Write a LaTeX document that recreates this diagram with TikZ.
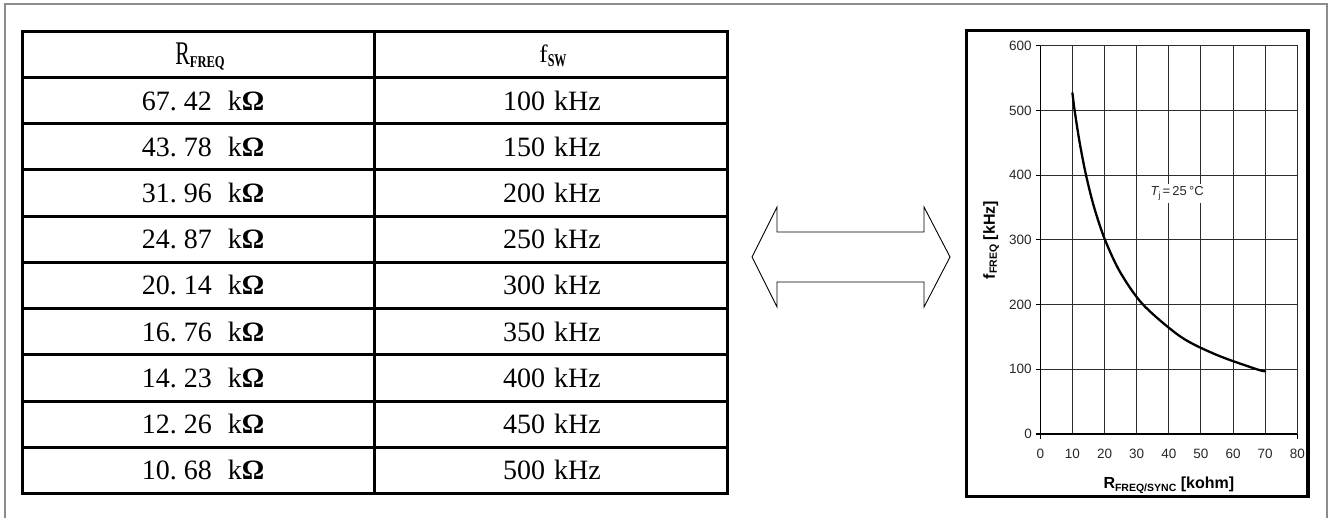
\documentclass[tikz,border=0pt]{standalone}
\usepackage{fontspec}
\setmainfont{Liberation Serif}
\newfontfamily\tabfont{Liberation Serif}
\newfontfamily\chfont{Liberation Sans}
\definecolor{framegray}{RGB}{140,140,140}
\definecolor{gridc}{RGB}{45,45,45}
\definecolor{labc}{RGB}{40,40,40}
\begin{document}
\begin{tikzpicture}[x=1pt,y=-1pt,
  tabline/.style={line width=3pt},
  cellnum/.style={anchor=base, inner sep=0pt, font=\tabfont\fontsize{28}{28}\selectfont},
  headtxt/.style={anchor=base, inner sep=0pt, font=\tabfont},
  gridl/.style={gridc, line width=0.9pt},
  axisl/.style={black, line width=1.1pt},
  ticklab/.style={inner sep=0pt, font=\chfont\fontsize{13.5}{13.5}\selectfont, text=labc},
  axlab/.style={inner sep=0pt, font=\chfont\bfseries\fontsize{16}{16}\selectfont, text=black},
  outline/.style={line width=0.9pt, line join=miter}
]
\useasboundingbox (0,0) rectangle (1330,518);
\fill[white] (0,0) rectangle (1330,518);
% outer frame
\draw[framegray, line width=1.3pt] (5,520) -- (5,4) -- (1327,4) -- (1327,520);

% ---------- table ----------
\draw[tabline] (22,31.5) rectangle (727.5,493.5);
\draw[tabline] (374.5,31.5) -- (374.5,493.5);
\foreach \k in {0,...,8} \draw[tabline] (22,{77.5+46.222*\k}) -- (727.5,{77.5+46.222*\k});

\node[headtxt] (hR) at (200,65) {\scalebox{0.66}[1]{\fontsize{33}{33}\selectfont R}\raisebox{-3pt}{\scalebox{0.76}[1]{\fontsize{16.5}{16.5}\selectfont\bfseries FREQ}}};
\node[headtxt] (hF) at (553,63) {{\fontsize{25}{25}\selectfont f}\raisebox{-4pt}{\scalebox{0.67}[1]{\fontsize{18}{18}\selectfont\bfseries SW}}};

\foreach \a/\b/\f [count=\i from 0] in {67/42/100,43/78/150,31/96/200,24/87/250,20/14/300,16/76/350,14/23/400,12/26/450,10/68/500}{
  \node[cellnum] (rf\i) at (203,{77.5+46.222*(\i+0.5)+9.5}) {\a.\hspace{7pt}\b\hspace{16pt}k\textbf{Ω}};
  \node[cellnum] (fs\i) at (552,{77.5+46.222*(\i+0.5)+9.5}) {\f\hspace{9pt}kHz};
}

% ---------- double arrow ----------
\draw[outline] (752,257) -- (777,207) -- (777,232) -- (924,232) -- (924,207) -- (950,257)
  -- (924,307) -- (924,282) -- (777,282) -- (777,307) -- cycle;

% ---------- chart ----------
\draw[line width=3.3pt] (966.5,30.7) rectangle (1308,496.7);

\begin{scope}[shift={(1040.3,434)}, x=3.2125pt, y=0.6472pt]
  \foreach \gx in {10,20,...,70} \draw[gridl] (\gx,0) -- (\gx,600);
  \foreach \gy in {100,200,...,500} \draw[gridl] (0,\gy) -- (80,\gy);
  \draw[gridl] (0,600) -- (80,600) -- (80,0);
  \draw[axisl] (0,600) -- (0,0) -- (80,0);
  \foreach \gy in {0,100,...,600} {
    \draw[axisl] (-1.3,\gy) -- (0,\gy);
    \node[ticklab, anchor=east] (yl\gy) at (-2.6,\gy) {\gy};
  }
  \draw[axisl] (0,0) -- (0,-7);
  \draw[axisl] (80,0) -- (80,-7);
  \foreach \gx in {0,10,...,80}
    \node[ticklab, anchor=north] (xl\gx) at (\gx,-23) {\gx};
  \draw[black, line width=2.3pt, line join=round, line cap=round] plot[smooth, tension=0.5] coordinates
    {(10,527) (10.68,500) (12.26,450) (14.23,400) (16.76,350) (20.14,300) (24.87,250) (31.96,200) (43.78,150) (55,122) (67.42,100) (70,97)};
  \node[fill=white, inner sep=3pt, font=\chfont\fontsize{13}{13}\selectfont, text=labc] (tj) at (42.6,371.6)
    {{\itshape T}\raisebox{-3pt}{\fontsize{9}{9}\selectfont j}\,=\,25\,°C};
\end{scope}

\node[axlab, anchor=base] (xlab) at (1168.8,488)
  {R\raisebox{-3pt}{\fontsize{10.5}{10.5}\selectfont FREQ/SYNC} [kohm]};
\node[axlab, rotate=90] (ylab) at (991,240)
  {f\raisebox{-2pt}{\fontsize{10.5}{10.5}\selectfont FREQ} [kHz]};
\end{tikzpicture}
\end{document}
